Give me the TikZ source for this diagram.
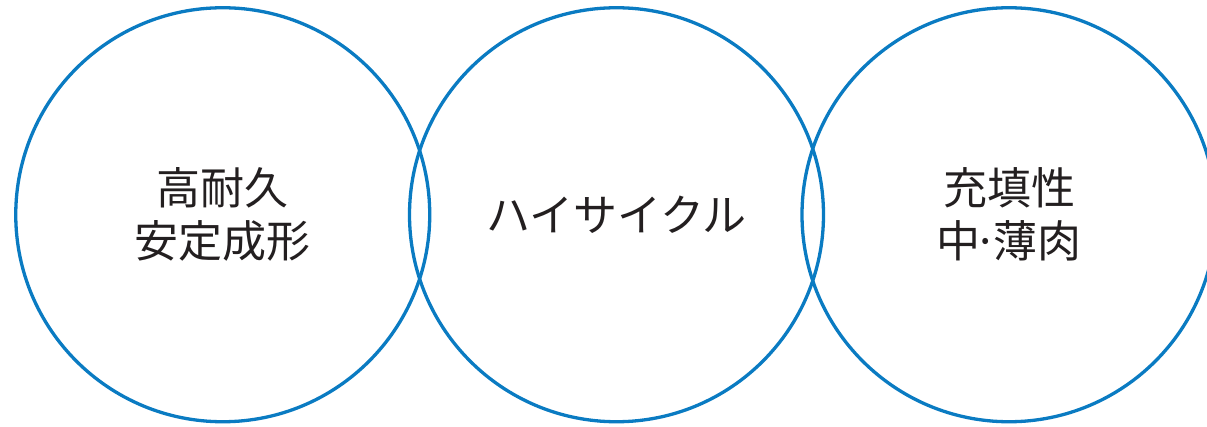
\documentclass[tikz,border=0pt]{standalone}
\usepackage{fontspec}
\usepackage{xcolor}
\newfontfamily\jpfont{Noto Sans CJK JP}
\definecolor{ringBlue}{HTML}{0A7BC2}
\definecolor{labelInk}{HTML}{231F20}
\tikzset{
  ring node/.style={circle,draw=ringBlue,line width=3.3pt,
    minimum size=414pt,inner sep=0pt,align=center,text=labelInk,
    font=\jpfont\fontsize{44}{53}\selectfont}
}

\begin{document}
\begin{tikzpicture}[x=1pt,y=1pt]
    \useasboundingbox (0,0) rectangle (1207,426);
    \node[ring node] (durable) at (222.75,211.25)
      {高耐久\\安定成形};
    \node[ring node] (cycle) at (616.5,211.25)
      {ハイサイクル};
    \node[ring node] (filling) at (1009,211.25)
      {充填性\\中\kern-7pt·\kern-5pt薄肉};
  \end{tikzpicture}
\end{document}
